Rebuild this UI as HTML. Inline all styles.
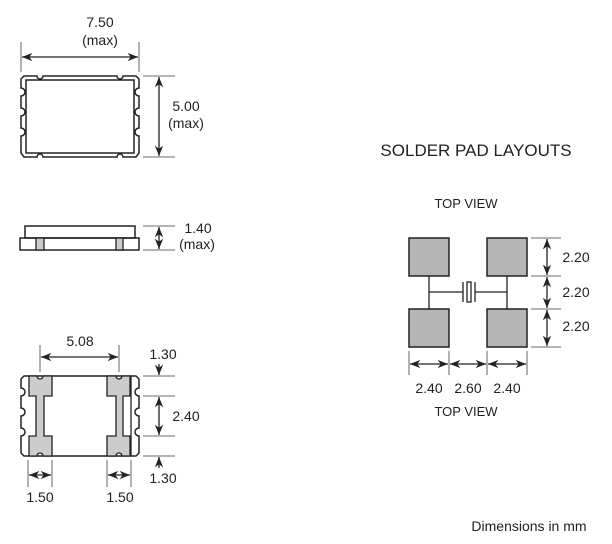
<!DOCTYPE html>
<html><head><meta charset="utf-8"><style>
html,body{margin:0;padding:0;background:#fff;width:612px;height:544px;overflow:hidden}
text{font-family:"Liberation Sans",sans-serif;font-size:14px;fill:#222}
</style></head><body>
<svg width="612" height="544" viewBox="0 0 612 544" xmlns="http://www.w3.org/2000/svg">
<defs>
<marker id="a" viewBox="0 0 10 10" refX="10" refY="5" markerWidth="8" markerHeight="8" orient="auto-start-reverse"><path d="M0,1 L10,5 L0,9 L3,5 z" fill="#222"/></marker>
</defs>
<g stroke="#222" fill="none" stroke-width="1.3">
<path d="M24,76 H37 A3,3 0 0 0 43,76 H117 A3,3 0 0 0 123,76 H136 L139,79 V88 A3,3 0 0 0 139,96 V108 A3,3 0 0 0 139,116 V128 A3,3 0 0 0 139,136 V153 L136,157 H123 A3,3 0 0 0 117,157 H43 A3,3 0 0 0 37,157 H24 L21,153 V136 A3,3 0 0 0 21,128 V116 A3,3 0 0 0 21,108 V96 A3,3 0 0 0 21,88 V79 Z" stroke-width="1.5"/>
<rect x="26" y="80" width="108" height="73" stroke-width="1.5"/>
<line x1="21" y1="42" x2="21" y2="72" stroke="#888"/>
<line x1="139" y1="42" x2="139" y2="72" stroke="#888"/>
<line x1="22" y1="57" x2="138" y2="57" marker-start="url(#a)" marker-end="url(#a)"/>
<line x1="143" y1="76" x2="175" y2="76" stroke="#888"/>
<line x1="143" y1="157" x2="175" y2="157" stroke="#888"/>
<line x1="159" y1="77" x2="159" y2="156" marker-start="url(#a)" marker-end="url(#a)"/>
<rect x="25" y="226" width="110" height="12" stroke-width="1.5"/>
<rect x="20" y="238" width="119" height="12" stroke-width="1.5"/>
<rect x="36" y="238" width="8" height="12" fill="#ccc"/>
<rect x="116" y="238" width="7" height="12" fill="#ccc"/>
<line x1="143" y1="226" x2="175" y2="226" stroke="#888"/>
<line x1="143" y1="250" x2="175" y2="250" stroke="#888"/>
<line x1="159" y1="227" x2="159" y2="249" marker-start="url(#a)" marker-end="url(#a)"/>
<path d="M24,376 H136 L139,379 V388 A3,3 0 0 0 139,396 V408 A3,3 0 0 0 139,416 V428 A3,3 0 0 0 139,436 V453 L136,456 H24 L21,453 V436 A3,3 0 0 0 21,428 V416 A3,3 0 0 0 21,408 V396 A3,3 0 0 0 21,388 V379 Z" stroke-width="1.5"/>
<path d="M29,376 H37 A3,3 0 0 0 43,376 H52 V396 H44 V436 H52 V456 H43 A3,3 0 0 0 37,456 H29 V436 H36 V396 H29 Z" fill="#ccc" stroke-width="1.3"/>
<path d="M107,376 H116 A3,3 0 0 0 122,376 H130 V396 H123 V436 H130 V456 H122 A3,3 0 0 0 116,456 H107 V436 H116 V396 H107 Z" fill="#ccc" stroke-width="1.3"/>
<line x1="131" y1="376" x2="131" y2="456"/>
<line x1="40" y1="345" x2="40" y2="372" stroke="#888"/>
<line x1="119" y1="345" x2="119" y2="372" stroke="#888"/>
<line x1="41" y1="357" x2="118" y2="357" marker-start="url(#a)" marker-end="url(#a)"/>
<line x1="143" y1="376" x2="175" y2="376" stroke="#888"/>
<line x1="143" y1="396" x2="175" y2="396" stroke="#888"/>
<line x1="143" y1="436" x2="175" y2="436" stroke="#888"/>
<line x1="143" y1="456" x2="175" y2="456" stroke="#888"/>
<line x1="159" y1="364" x2="159" y2="375" marker-end="url(#a)"/>
<line x1="159" y1="397" x2="159" y2="435" marker-start="url(#a)" marker-end="url(#a)"/>
<line x1="159" y1="468" x2="159" y2="457" marker-end="url(#a)"/>
<line x1="28" y1="460" x2="28" y2="487" stroke="#888"/>
<line x1="52" y1="460" x2="52" y2="487" stroke="#888"/>
<line x1="107" y1="460" x2="107" y2="487" stroke="#888"/>
<line x1="131" y1="460" x2="131" y2="487" stroke="#888"/>
<line x1="29" y1="475" x2="51" y2="475" marker-start="url(#a)" marker-end="url(#a)"/>
<line x1="108" y1="475" x2="130" y2="475" marker-start="url(#a)" marker-end="url(#a)"/>
<rect x="409" y="238" width="40" height="38" fill="#b5b5b5" stroke-width="1.5"/>
<rect x="487" y="238" width="40" height="38" fill="#b5b5b5" stroke-width="1.5"/>
<rect x="409" y="309" width="40" height="38" fill="#b5b5b5" stroke-width="1.5"/>
<rect x="487" y="309" width="40" height="38" fill="#b5b5b5" stroke-width="1.5"/>
<line x1="429" y1="276" x2="429" y2="309"/>
<line x1="507" y1="276" x2="507" y2="309"/>
<line x1="429" y1="292" x2="463" y2="292"/>
<line x1="475" y1="292" x2="507" y2="292"/>
<line x1="463" y1="282" x2="463" y2="302"/>
<line x1="475" y1="282" x2="475" y2="302"/>
<rect x="467" y="282" width="4" height="20"/>
<line x1="531" y1="238" x2="561" y2="238" stroke="#888"/>
<line x1="531" y1="276" x2="561" y2="276" stroke="#888"/>
<line x1="531" y1="309" x2="561" y2="309" stroke="#888"/>
<line x1="531" y1="347" x2="561" y2="347" stroke="#888"/>
<line x1="547" y1="239" x2="547" y2="275" marker-start="url(#a)" marker-end="url(#a)"/>
<line x1="547" y1="277" x2="547" y2="308" marker-start="url(#a)" marker-end="url(#a)"/>
<line x1="547" y1="310" x2="547" y2="346" marker-start="url(#a)" marker-end="url(#a)"/>
<line x1="409" y1="351" x2="409" y2="375" stroke="#888"/>
<line x1="449" y1="351" x2="449" y2="375" stroke="#888"/>
<line x1="487" y1="351" x2="487" y2="375" stroke="#888"/>
<line x1="527" y1="351" x2="527" y2="375" stroke="#888"/>
<line x1="410" y1="364" x2="448" y2="364" marker-start="url(#a)" marker-end="url(#a)"/>
<line x1="450" y1="364" x2="486" y2="364" marker-start="url(#a)" marker-end="url(#a)"/>
<line x1="488" y1="364" x2="526" y2="364" marker-start="url(#a)" marker-end="url(#a)"/>
</g>
<g text-anchor="middle">
<text x="100" y="27">7.50</text>
<text x="100" y="45">(max)</text>
<text x="186" y="111">5.00</text>
<text x="186" y="128">(max)</text>
<text x="198" y="233">1.40</text>
<text x="197" y="249">(max)</text>
<text x="80" y="346">5.08</text>
<text x="163" y="359">1.30</text>
<text x="186" y="421">2.40</text>
<text x="163" y="483">1.30</text>
<text x="40" y="502">1.50</text>
<text x="120" y="502">1.50</text>
<text x="476" y="156" style="font-size:17px">SOLDER PAD LAYOUTS</text>
<text x="466" y="208" style="font-size:13px">TOP VIEW</text>
<text x="576" y="262">2.20</text>
<text x="576" y="297">2.20</text>
<text x="576" y="331">2.20</text>
<text x="429" y="393">2.40</text>
<text x="468" y="393">2.60</text>
<text x="507" y="393">2.40</text>
<text x="466" y="416" style="font-size:13px">TOP VIEW</text>
<text x="529" y="531" style="font-size:14px">Dimensions in mm</text>
</g>
</svg>
</body></html>
